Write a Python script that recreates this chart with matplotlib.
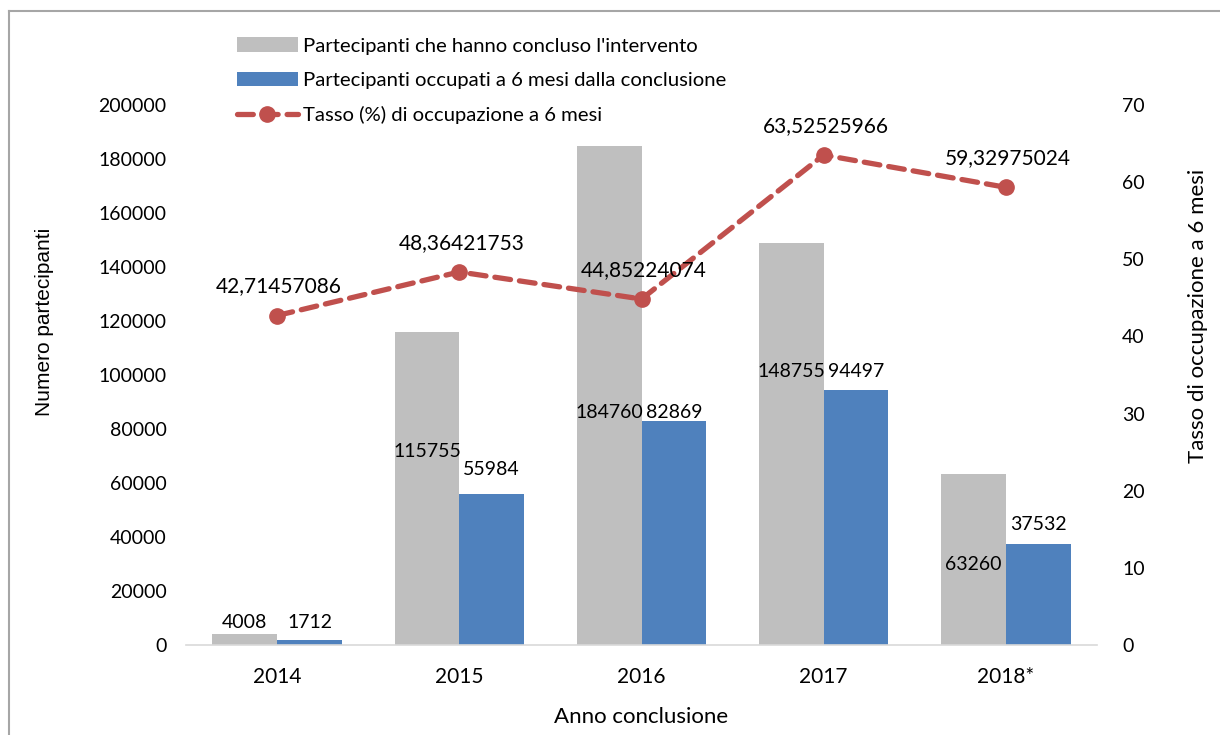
import numpy as np
import matplotlib
matplotlib.use("Agg")
import matplotlib.pyplot as plt
from matplotlib.lines import Line2D
from matplotlib.legend_handler import HandlerLine2D

# ------------------------------------
# DATA
# ------------------------------------
years = ["2014", "2015", "2016", "2017", "2018*"]
concluded = [4008, 115755, 184760, 148755, 63260]
employed = [1712, 55984, 82869, 94497, 37532]
rate = [42.71457086, 48.36421753, 44.85224074, 63.52525966, 59.32975024]

# label offsets (pixels above the blue bar top), hand-placed as in the source
gray_label_off = [18, 42, 9, 18, -21]
blue_label_off = [18, 24, 9, 18, 19]

GRAY = "#BFBFBF"
BLUE = "#4F81BD"
RED = "#C0504D"
FONT = "Lato"

plt.rcParams["font.family"] = [FONT, "DejaVu Sans"]


class EndMarkerHandler(HandlerLine2D):
    # legend marker at the right end of the dashed line, like Excel
    def get_xdata(self, legend, xdescent, ydescent, width, height, fontsize):
        xdata, _ = super().get_xdata(legend, xdescent, ydescent, width, height, fontsize)
        return xdata, [xdata[-1]]


fig = plt.figure(figsize=(12.2, 7.35), dpi=100)
ax = fig.add_axes([0.1525, 0.1224, 0.7467, 0.7347])
ax2 = ax.twinx()

x = np.arange(len(years))
w = 0.355
b1 = ax.bar(x - w / 2, concluded, w, color=GRAY, label="Partecipanti che hanno concluso l'intervento")
b2 = ax.bar(x + w / 2, employed, w, color=BLUE, label="Partecipanti occupati a 6 mesi dalla conclusione")

ax.set_xlim(-0.5, len(years) - 0.5)
ax.set_ylim(0, 200000)
ax.set_yticks(np.arange(0, 200001, 20000))
ax.set_xticks(x)
ax.set_xticklabels(years)
ax.tick_params(axis="both", length=0, labelsize=14)
ax.tick_params(axis="y", pad=14)
ax.tick_params(axis="x", pad=16, labelsize=15)
for s in ["top", "right", "left"]:
    ax.spines[s].set_visible(False)
ax.spines["bottom"].set_color("#D9D9D9")
ax.spines["bottom"].set_linewidth(1.2)

# bar data labels
for i in range(len(years)):
    ax.annotate(str(concluded[i]), (x[i] - w / 2, employed[i]), xytext=(0, gray_label_off[i]),
                textcoords="offset pixels", ha="center", va="center", fontsize=14)
    ax.annotate(str(employed[i]), (x[i] + w / 2, employed[i]), xytext=(0, blue_label_off[i]),
                textcoords="offset pixels", ha="center", va="center", fontsize=14)

# rate line
line, = ax2.plot(x, rate, color=RED, lw=3.8, linestyle=(0, (3, 1.7)), dash_capstyle="round",
                 marker="o", markersize=11, label="Tasso (%) di occupazione a 6 mesi")
ax2.set_ylim(0, 70)
ax2.set_yticks(np.arange(0, 71, 10))
ax2.tick_params(axis="y", length=0, labelsize=14, pad=18)
for s in ["top", "right", "left", "bottom"]:
    ax2.spines[s].set_visible(False)
for i in range(len(years)):
    ax2.annotate(f"{rate[i]:.8f}".replace(".", ","), (x[i], rate[i]), xytext=(2, 29),
                 textcoords="offset pixels", ha="center", va="center", fontsize=15)

ax.set_ylabel("Numero partecipanti", fontsize=15, family=["Liberation Sans", "DejaVu Sans"])
ax.yaxis.set_label_coords(-0.145, 0.598)
ax2.set_ylabel("Tasso di occupazione a 6 mesi", fontsize=16)
ax2.yaxis.set_label_coords(1.10, 0.61)
ax.set_xlabel("Anno conclusione", fontsize=16)
ax.xaxis.set_label_coords(0.5, -0.115)

fig.legend(handles=[b1, b2, line], loc="upper left", bbox_to_anchor=(0.186, 0.963),
           frameon=False, fontsize=14.6, handlelength=3.0, handleheight=0.7,
           handletextpad=0.25, labelspacing=0.85, borderpad=0,
           handler_map={Line2D: EndMarkerHandler(numpoints=1)})

# frame round the chart (top and left edges visible in the crop)
fig.add_artist(Line2D([0.0074, 0.0074], [0, 0.985], transform=fig.transFigure, color="#A6A6A6", lw=1.5))
fig.add_artist(Line2D([0.0074, 1], [0.985, 0.985], transform=fig.transFigure, color="#A6A6A6", lw=1.5))

fig.savefig("out.png", dpi=100)
